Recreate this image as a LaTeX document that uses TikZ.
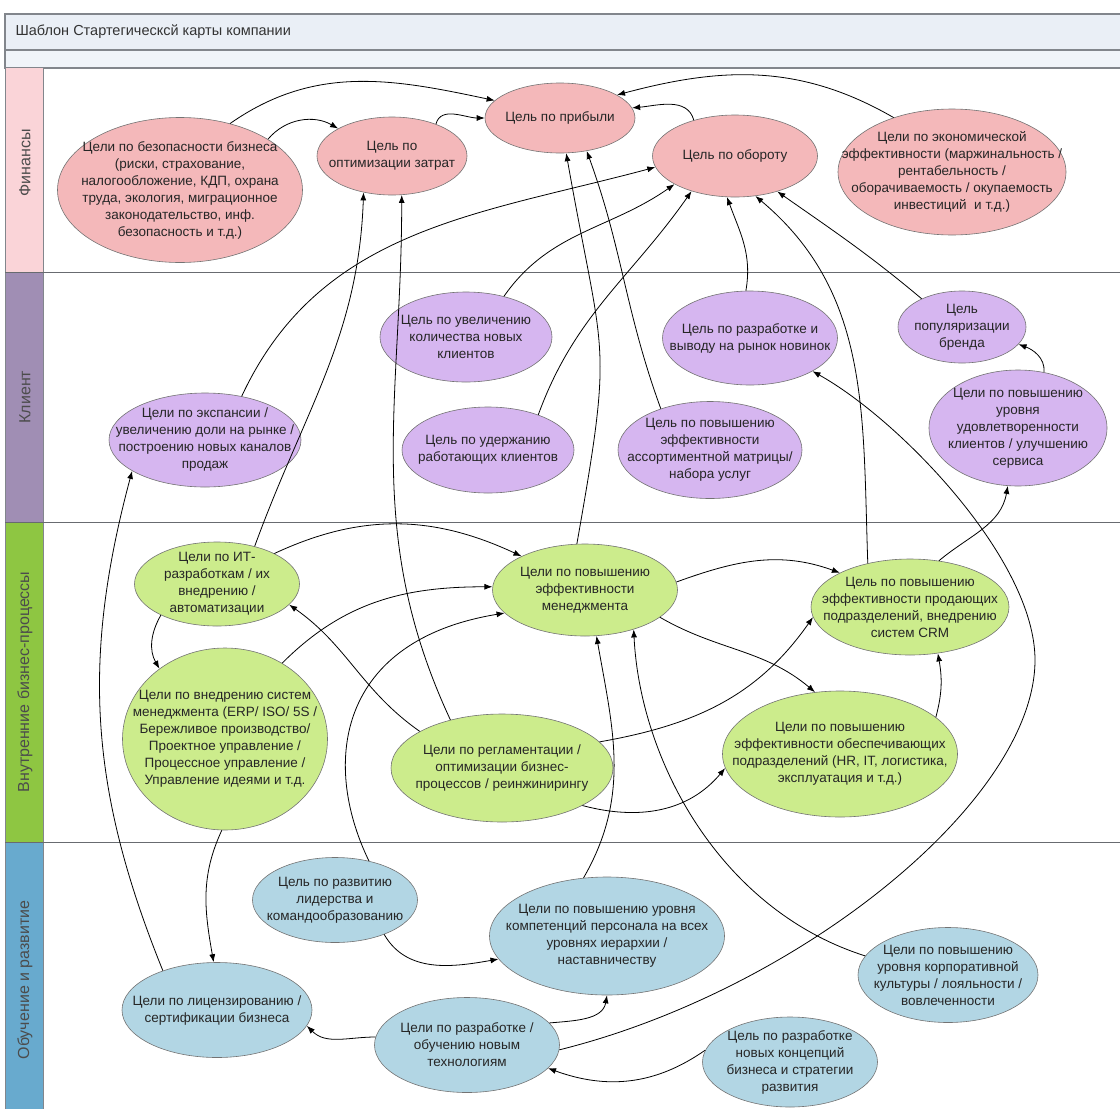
\documentclass[tikz,border=0pt]{standalone}
\usepackage{fontspec}
\setmainfont{Liberation Sans}
\usetikzlibrary{shapes.geometric}
\usetikzlibrary{arrows.meta}
\definecolor{finfill}{RGB}{244,184,186}
\definecolor{clifill}{RGB}{214,182,240}
\definecolor{procfill}{RGB}{204,236,140}
\definecolor{learnfill}{RGB}{178,214,228}
\definecolor{finstrip}{RGB}{250,212,216}
\definecolor{clistrip}{RGB}{160,142,180}
\definecolor{procstrip}{RGB}{142,198,66}
\definecolor{learnstrip}{RGB}{104,170,206}
\definecolor{barfill}{RGB}{234,239,246}
\definecolor{framegray}{RGB}{130,134,140}
\newcommand{\goalfont}{\fontsize{13.5pt}{17pt}\selectfont}
\newcommand{\lanefont}{\fontsize{16pt}{18pt}\selectfont}
\newcommand{\titlefont}{\fontsize{14.5pt}{17pt}\selectfont}
\tikzset{>={Latex[length=8pt,width=6pt]},
goal/.style={ % every goal is an ellipse, its text sits in a centred label
ellipse,
draw=black!55,
line width=0.6pt,
inner sep=0pt},
fingoal/.style={goal, fill=finfill},
cligoal/.style={goal, fill=clifill},
procgoal/.style={goal, fill=procfill},
learngoal/.style={goal, fill=learnfill},
every label/.style={align=center, font=\goalfont, text=black!85, inner sep=0pt},
lanename/.style={rotate=90, font=\lanefont, text=black!70},
link/.style={draw, ->, line width=0.8pt}, % Sets the properties for each connector
every edge/.style={link}}

\begin{document}
\begin{tikzpicture}[x=1pt, y=-1pt]
	\useasboundingbox (0,0) rectangle (1120,1109);
	% frame and lanes
	\draw[framegray, fill=barfill, line width=1.2pt] (5,14) rectangle (1140,50);
	\draw[framegray, fill=barfill!70!white, line width=1.2pt] (5,50) rectangle (1140,68);
	\fill[finstrip] (6,68) rectangle (43,272);
	\fill[clistrip] (6,272) rectangle (43,522);
	\fill[procstrip] (6,522) rectangle (43,842);
	\fill[learnstrip] (6,842) rectangle (43,1120);
	\draw[framegray, line width=1pt] (5,68) -- (5,1120);
	\draw[framegray] (43,68) -- (43,1120);
	\foreach \y in {272,522,842} \draw[framegray!80!black, line width=1pt] (5,\y) -- (1140,\y);
	\node[anchor=west, font=\titlefont, text=black!80] (title) at (12,32) {Шаблон Стартегическсй карты компании};
	\node[lanename] (finlane) at (25,163) {Финансы};
	\node[lanename] (clilane) at (25,397) {Клиент};
	\node[lanename] (proclane) at (25,682) {Внутренние бизнес-процессы};
	\node[lanename] (learnlane) at (25,980) {Обучение и развитие};

	% finance goals
	\node[fingoal, minimum width=245pt, minimum height=145pt, label={center:{Цели по безопасности бизнеса\\(риски, страхование,\\налогообложение, КДП, охрана\\труда, экология, миграционное\\законодательство, инф.\\безопасность и т.д.)}}] (secur) at (180,190) {};
	\node[fingoal, minimum width=150pt, minimum height=78pt, label={center:{Цель по\\оптимизации затрат}}] (costs) at (392,156) {};
	\node[fingoal, minimum width=150pt, minimum height=70pt, label={center:{Цель по прибыли}}] (profit) at (560,118) {};
	\node[fingoal, minimum width=165pt, minimum height=82pt, label={center:{Цель по обороту}}] (revenue) at (735,156) {};
	\node[fingoal, minimum width=228pt, minimum height=126pt, label={center:{Цели по экономической\\эффективности (маржинальность /\\рентабельность /\\оборачиваемость / окупаемость\\инвестиций \ и т.д.)}}] (econ) at (952,172) {};

	% client goals
	\node[cligoal, minimum width=192pt, minimum height=94pt, label={center:{Цели по экспансии /\\увеличению доли на рынке /\\построению новых каналов\\продаж}}] (expan) at (205,440) {};
	\node[cligoal, minimum width=172pt, minimum height=90pt, label={center:{Цель по увеличению\\количества новых\\клиентов}}] (newcli) at (466,337) {};
	\node[cligoal, minimum width=172pt, minimum height=86pt, label={center:{Цель по удержанию\\работающих клиентов}}] (retain) at (488,450) {};
	\node[cligoal, minimum width=175pt, minimum height=94pt, label={center:{Цель по разработке и\\выводу на рынок новинок}}] (launch) at (750,338) {};
	\node[cligoal, minimum width=184pt, minimum height=97pt, label={center:{Цель по повышению\\эффективности\\ассортиментной матрицы/\\набора услуг}}] (assort) at (710,450) {};
	\node[cligoal, minimum width=128pt, minimum height=72pt, label={center:{Цель\\популяризации\\бренда}}] (brand) at (962,327) {};
	\node[cligoal, minimum width=178pt, minimum height=116pt, label={center:{Цели по повышению\\уровня\\удовлетворенности\\клиентов / улучшению\\сервиса}}] (satisf) at (1018,428) {};

	% process goals
	\node[procgoal, minimum width=165pt, minimum height=84pt, label={center:{Цели по ИТ-\\разработкам / их\\внедрению /\\автоматизации}}] (itdev) at (217,584) {};
	\node[procgoal, minimum width=205pt, minimum height=182pt, label={center:{Цели по внедрению систем\\менеджмента (ERP/ ISO/ 5S /\\Бережливое производство/\\Проектное управление /\\Процессное управление /\\Управление идеями и т.д.}}] (mgmtsys) at (225,739) {};
	\node[procgoal, minimum width=185pt, minimum height=92pt, label={center:{Цели по повышению\\эффективности\\менеджмента}}] (mgmteff) at (585,590) {};
	\node[procgoal, minimum width=222pt, minimum height=108pt, label={center:{Цели по регламентации /\\оптимизации бизнес-\\процессов / реинжинирингу}}] (reglam) at (502,768) {};
	\node[procgoal, minimum width=198pt, minimum height=96pt, label={center:{Цель по повышению\\эффективности продающих\\подразделений, внедрению\\систем CRM}}] (sales) at (910,607) {};
	\node[procgoal, minimum width=235pt, minimum height=126pt, label={center:{Цели по повышению\\эффективности обеспечивающих\\подразделений (HR, IT, логистика,\\эксплуатация и т.д.)}}] (support) at (840,754) {};

	% learning goals
	\node[learngoal, minimum width=165pt, minimum height=85pt, label={center:{Цель по развитию\\лидерства и\\командообразованию}}] (leader) at (335,900) {};
	\node[learngoal, minimum width=235pt, minimum height=118pt, label={center:{Цели по повышению уровня\\компетенций персонала на всех\\уровнях иерархии /\\наставничеству}}] (compet) at (607,936) {};
	\node[learngoal, minimum width=190pt, minimum height=95pt, label={center:{Цели по лицензированию /\\сертификации бизнеса}}] (licen) at (217,1010) {};
	\node[learngoal, minimum width=185pt, minimum height=95pt, label={center:{Цели по разработке /\\обучению новым\\технологиям}}] (newtech) at (467,1045) {};
	\node[learngoal, minimum width=180pt, minimum height=95pt, label={center:{Цели по повышению\\уровня корпоративной\\культуры / лояльности /\\вовлеченности}}] (culture) at (948,975) {};
	\node[learngoal, minimum width=175pt, minimum height=90pt, label={center:{Цель по разработке\\новых концепций\\бизнеса и стратегии\\развития}}] (concept) at (790,1062) {};
	\coordinate (turn) at (1035,660);

	% finance lane
	\draw (secur.53) edge[out=35, in=168] (profit.165);
	\draw (secur.30) edge[out=50, in=150] (costs.153);
	\draw (costs.36) edge[out=75, in=180] (profit.180);
	\draw (revenue.139) edge[out=105, in=5] (profit.8);
	\draw (econ.137) edge[out=150, in=15] (profit.22);
	% up into the finance lane
	\draw (itdev.45) edge[out=70, in=-92] (costs.232);
	\draw (reglam.137) edge[out=115, in=-90] (costs.284);
	\draw (expan.50) edge[out=65, in=195] (revenue.188);
	\draw (newcli.47) edge[out=55, in=215] (revenue.205);
	\draw (retain.35) edge[out=70, in=235] (revenue.219);
	\draw (launch.95) edge[out=80, in=-70] (revenue.259);
	\draw (sales.134) edge[out=92, in=-40] (revenue.-63);
	\draw (brand.145) edge[out=140, in=-35] (revenue.-40);
	\draw (assort.140) edge[out=110, in=-70] (profit.-51);
	\draw (mgmteff.100) edge[out=80, in=-80, looseness=1.4] (profit.-80);
	% client lane
	\draw (satisf.65) edge[out=85, in=-20] (brand.-17);
	\draw (licen.144) edge[out=112, in=-105] (expan.203);
	\draw[link] (newtech.-3) .. controls (800,990) and (1035,800) .. (turn) .. controls (1035,560) and (900,420) .. (launch.-28);
	% process lane
	\draw (itdev.209) edge[out=240, in=120] (mgmtsys.133);
	\draw (itdev.28) edge[out=25, in=155] (mgmteff.152);
	\draw (mgmtsys.53) edge[out=45, in=180] (mgmteff.178);
	\draw (reglam.156) edge[out=145, in=-35] (itdev.-16);
	\draw (reglam.15) edge[out=10, in=235] (sales.186);
	\draw (reglam.-25) edge[out=-15, in=230] (support.187);
	\draw (mgmteff.5) edge[out=20, in=160] (sales.154);
	\draw (mgmteff.-20) edge[out=-30, in=140] (support.112);
	\draw (support.21) edge[out=75, in=-80] (sales.-59);
	\draw (sales.58) edge[out=40, in=-100] (satisf.-100);
	\draw (mgmtsys.-92) edge[out=-115, in=100] (licen.94);
	% learning lane
	\draw[link] (leader.49) .. controls (320,760) and (340,640) .. (mgmteff.196);
	\draw (compet.112) edge[out=60, in=-80] (mgmteff.-76);
	\draw[link] (culture.167) .. controls (720,910) and (640,760) .. (mgmteff.-39);
	\draw (leader.-35) edge[out=-60, in=190] (compet.192);
	\draw (newtech.15) edge[out=5, in=-100] (compet.-90);
	\draw (newtech.175) edge[out=180, in=-45] (licen.-10);
	\draw (concept.172) edge[out=215, in=-20] (newtech.-16);
\end{tikzpicture}
\end{document}
